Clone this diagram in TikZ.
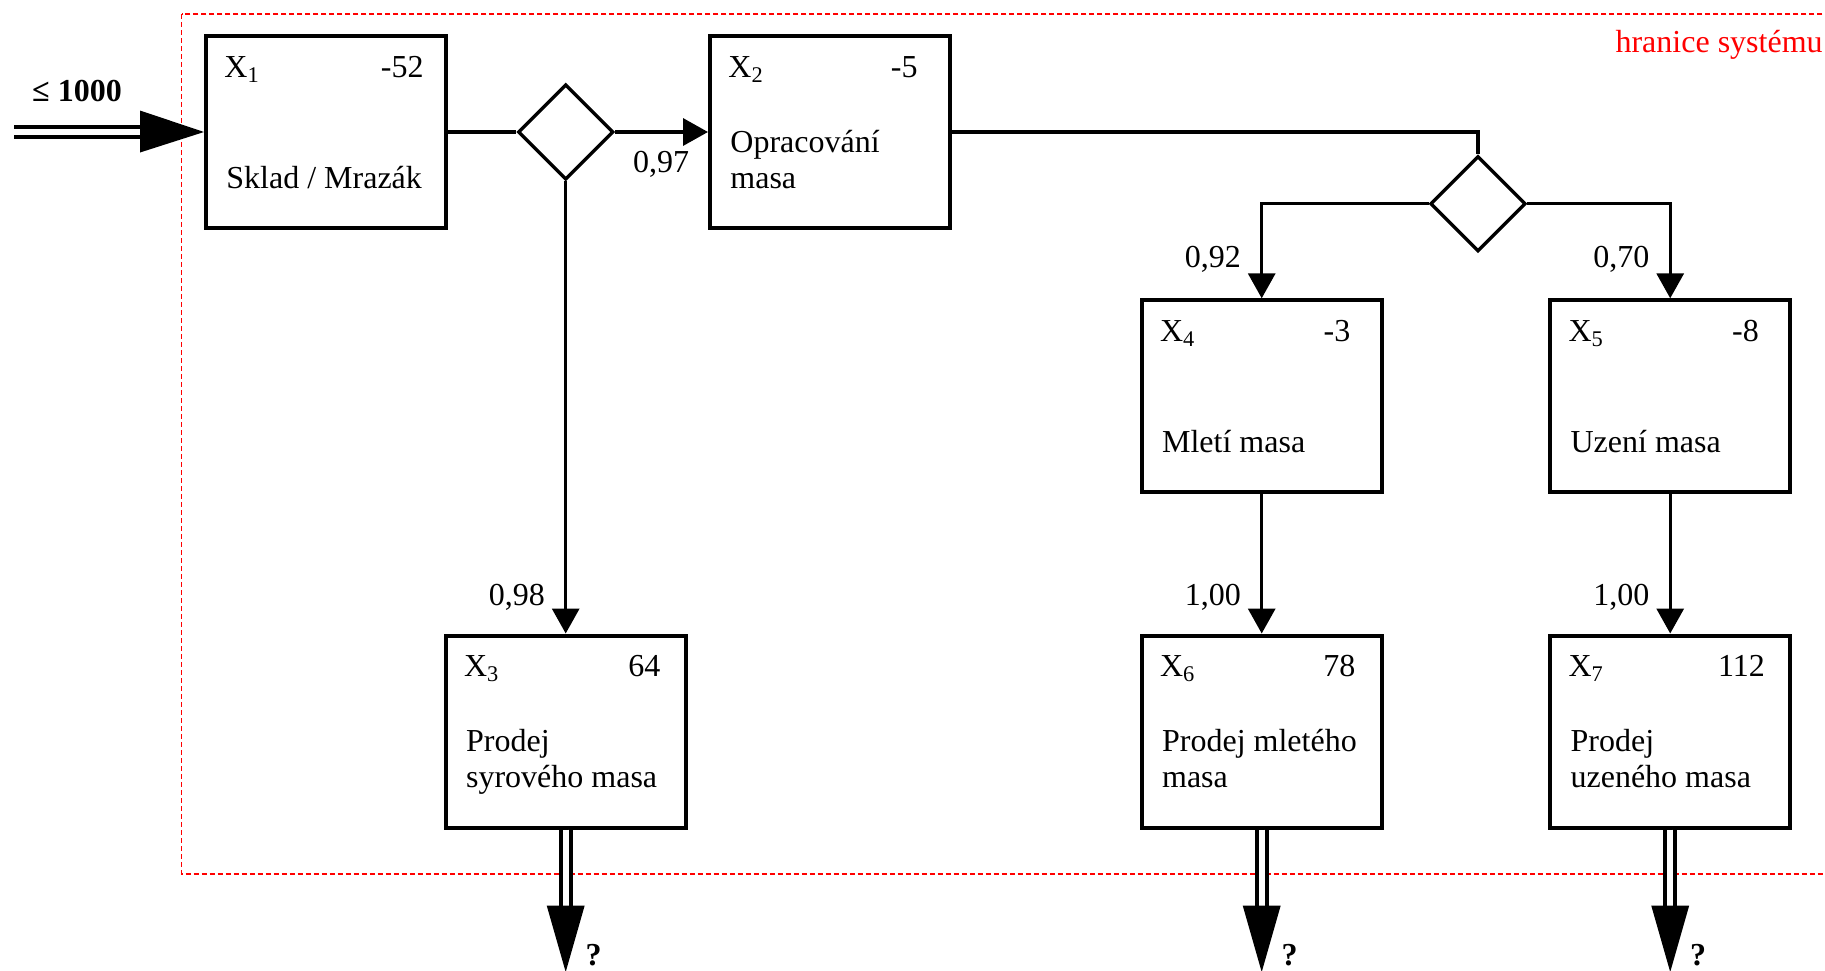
\documentclass[tikz,border=0pt]{standalone}
\usepackage{fontspec}
\setmainfont{Liberation Serif}
\usetikzlibrary{shapes.geometric,arrows.meta,calc}

\newcommand{\procbox}[7]{%
  \node[pbox] (#1) at (#2) {};
  \node[lbl,anchor=base west] (#1x) at ($(#1.north west)+(20,43)$) {X\textsubscript{#3}};
  \node[lbl,anchor=base east] (#1n) at ($(#1.north east)+(-#5,43)$) {#4};
  \if\relax\detokenize{#6}\relax\else
  \node[lbl,anchor=base west] (#1a) at ($(#1.north west)+(22,118)$) {#6};
  \fi
  \node[lbl,anchor=base west] (#1b) at ($(#1.north west)+(22,154)$) {#7};
}

\begin{document}
\begin{tikzpicture}[x=0.5pt,y=-0.5pt,
  every node/.style={font=\fontsize{16}{19}\selectfont},
  pbox/.style={draw,line width=2pt,minimum width=120pt,minimum height=96pt,inner sep=0pt},
  dia/.style={draw,diamond,aspect=1,line width=1.7pt,minimum width=47.7pt,minimum height=47.7pt,inner sep=0pt},
  conn/.style={line width=1.7pt},
  arr/.style={conn,-{Triangle[length=12.5pt,width=13.5pt]}},
  dbl/.style={line width=2pt,double=white,double distance=3pt},
  lbl/.style={inner sep=0pt},
  bold/.style={lbl,font=\fontsize{16}{19}\selectfont\bfseries},
  boundary/.style={draw=red,line width=0.6pt,dash pattern=on 2.5pt off 1.5pt}
]
\useasboundingbox (0,0) rectangle (1825,970);

% system boundary
\draw[boundary] (181.6,14) rectangle (1830,874);
\node[lbl,anchor=east,text=red] (hr) at (1823,44.5) {hranice systému};

% boxes
\procbox{x1}{326,132}{1}{-52}{24}{}{Sklad / Mrazák}
\procbox{x2}{830,132}{2}{-5}{34}{Opracování}{masa}
\procbox{x3}{565.7,731.5}{3}{64}{27}{Prodej}{syrového masa}
\procbox{x4}{1261.7,396.3}{4}{-3}{33}{}{Mletí masa}
\procbox{x5}{1670.2,396.3}{5}{-8}{33}{}{Uzení masa}
\procbox{x6}{1261.7,731.5}{6}{78}{28}{Prodej mletého}{masa}
\procbox{x7}{1670.2,731.5}{7}{112}{27}{Prodej}{uzeného masa}

% decision diamonds
\node[dia] (d1) at (565.7,132) {};
\node[dia] (d2) at (1478,203.7) {};

% connectors
\draw[conn] (x1.east) -- (d1.west);
\draw[arr] (d1.east) -- (x2.west);
\draw[arr] (d1.south) -- (x3.north);
\draw[conn] (x2.east) -| (d2.north);
\draw[arr] (d2.west) -| (x4.north);
\draw[arr] (d2.east) -| (x5.north);
\draw[arr] (x4.south) -- (x6.north);
\draw[arr] (x5.south) -- (x7.north);

% coefficients
\node[lbl] (l97) at (661,164.5) {0,97};
\node[lbl] (l98) at (516.8,597) {0,98};
\node[lbl] (l92) at (1212.8,259.5) {0,92};
\node[lbl] (l70) at (1621.3,259.5) {0,70};
\node[lbl] (l100a) at (1212.8,597) {1,00};
\node[lbl] (l100b) at (1621.3,597) {1,00};

% input
\coordinate (in0) at (14,131.5);
\coordinate (in1) at (142,131.5);
\draw[dbl] (in0) -- (in1);
\fill ($(in1)+(-2,-21)$) -- ($(in1)+(-2,21)$) -- (x1.west) -- cycle;
\node[bold] (inl) at (77,91.5) {≤ 1000};

% outputs
\foreach \b/\o in {x3/o3,x6/o6,x7/o7}{
  \coordinate (\o) at ($(\b.south)+(0,78)$);
  \coordinate (\o t) at ($(\b.south)+(0,142.5)$);
  \draw[dbl] (\b.south) -- (\o);
  \fill ($(\o)+(-19,-2)$) -- ($(\o)+(19,-2)$) -- (\o t) -- cycle;
  \node[bold] at ($(\o t)+(28,-17)$) {?};
}
\end{tikzpicture}
\end{document}
